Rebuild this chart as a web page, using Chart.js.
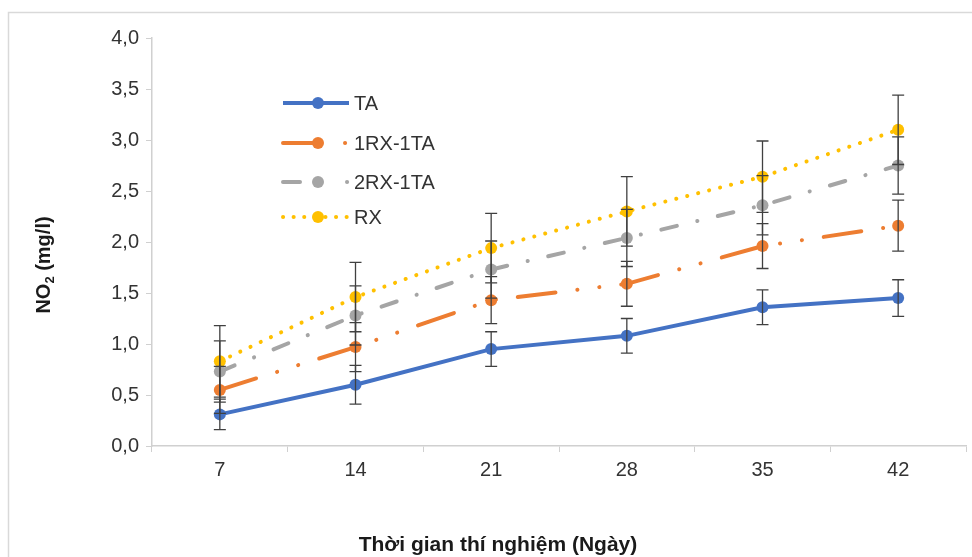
<!DOCTYPE html>
<html>
<head>
<meta charset="utf-8">
<script src="https://cdn.jsdelivr.net/npm/chart.js@4/dist/chart.umd.min.js"></script>
<style>
  html, body { margin: 0; padding: 0; background: #ffffff; }
  #wrap { width: 972px; height: 557px; position: relative; }
</style>
</head>
<body>
<div id="wrap"><canvas id="c" width="972" height="557"></canvas></div>
<script>
// ---- data ----
const categories = ['7', '14', '21', '28', '35', '42'];
const seriesNames = ['TA', '1RX-1TA', '2RX-1TA', 'RX'];
const taValues     = [0.31, 0.60, 0.95, 1.08, 1.36, 1.45];
const rx1ta1Values = [0.55, 0.97, 1.43, 1.59, 1.96, 2.16];
const rx2ta1Values = [0.73, 1.28, 1.73, 2.04, 2.36, 2.75];
const rxValues     = [0.83, 1.46, 1.94, 2.30, 2.64, 3.10];
const taErrors     = [0.15, 0.19, 0.17, 0.17, 0.17, 0.18];
const rx1ta1Errors = [0.23, 0.24, 0.23, 0.22, 0.22, 0.25];
const rx2ta1Errors = [0.30, 0.29, 0.28, 0.28, 0.29, 0.28];
const rxErrors     = [0.35, 0.34, 0.34, 0.34, 0.35, 0.34];
const yTickValues  = [0, 0.5, 1.0, 1.5, 2.0, 2.5, 3.0, 3.5, 4.0];
const yAxisTitleMain = 'NO';
const yAxisTitleSub = '2';
const yAxisTitleRest = ' (mg/l)';
const xAxisTitle = 'Thời gian thí nghiệm (Ngày)';

// ---- styles ----
const FONT = '"Liberation Sans", Arial, sans-serif';
const styles = [
  { color: '#4472C4', width: 4, dash: [], cap: 'butt', legendDash: [] },
  { color: '#ED7D31', width: 4, dash: [38, 22, 0.1, 22, 0.1, 22], cap: 'round', legendDash: [34, 28, 0.1, 200] },
  { color: '#A5A5A5', width: 4, dash: [16, 21, 0.1, 21], cap: 'round', legendDash: [17, 47, 0.1, 200] },
  { color: '#FFC000', width: 4, dash: [0.1, 11.2], cap: 'round', legendDash: [0.1, 10.5] }
];
const valueSets = [taValues, rx1ta1Values, rx2ta1Values, rxValues];
const errorSets = [taErrors, rx1ta1Errors, rx2ta1Errors, rxErrors];

const datasets = seriesNames.map((name, i) => ({
  label: name,
  data: valueSets[i],
  errors: errorSets[i],
  borderColor: styles[i].color,
  backgroundColor: styles[i].color,
  borderWidth: styles[i].width,
  borderDash: styles[i].dash,
  borderCapStyle: styles[i].cap,
  pointRadius: 6,
  pointHoverRadius: 6,
  pointBackgroundColor: styles[i].color,
  pointBorderColor: styles[i].color,
  pointBorderWidth: 0,
  tension: 0,
  fill: false
}));

const framePlugin = {
  id: 'frame',
  beforeDraw(chart) {
    const ctx = chart.ctx;
    ctx.save();
    ctx.fillStyle = '#ffffff';
    ctx.fillRect(0, 0, chart.width, chart.height);
    ctx.strokeStyle = '#D9D9D9';
    ctx.lineWidth = 1.5;
    ctx.strokeRect(8.5, 12.5, 1200, 1200);
    ctx.restore();
  }
};

const errorBarPlugin = {
  id: 'errorBars',
  afterDatasetsDraw(chart) {
    const ctx = chart.ctx;
    const xs = chart.scales.x, ys = chart.scales.y;
    ctx.save();
    ctx.strokeStyle = '#404040';
    ctx.lineWidth = 1.3;
    ctx.setLineDash([]);
    chart.data.datasets.forEach(ds => {
      ds.data.forEach((v, j) => {
        const e = ds.errors[j];
        const x = xs.getPixelForValue(j);
        const yTop = ys.getPixelForValue(v + e);
        const yBot = ys.getPixelForValue(v - e);
        ctx.beginPath();
        ctx.moveTo(x, yTop); ctx.lineTo(x, yBot);
        ctx.moveTo(x - 6, yTop); ctx.lineTo(x + 6, yTop);
        ctx.moveTo(x - 6, yBot); ctx.lineTo(x + 6, yBot);
        ctx.stroke();
      });
    });
    ctx.restore();
  }
};

const legendPlugin = {
  id: 'customLegend',
  afterDraw(chart) {
    const ctx = chart.ctx;
    const rows = [103, 143, 182, 217];
    ctx.save();
    chart.data.datasets.forEach((ds, i) => {
      const y = rows[i];
      ctx.strokeStyle = styles[i].color;
      ctx.lineWidth = styles[i].width;
      ctx.lineCap = styles[i].cap;
      ctx.setLineDash(styles[i].legendDash);
      ctx.beginPath();
      ctx.moveTo(283, y); ctx.lineTo(349, y);
      ctx.stroke();
      ctx.setLineDash([]);
      ctx.fillStyle = styles[i].color;
      ctx.beginPath();
      ctx.arc(318, y, 6, 0, Math.PI * 2);
      ctx.fill();
      ctx.fillStyle = '#333333';
      ctx.font = '20px ' + FONT;
      ctx.textBaseline = 'middle';
      ctx.textAlign = 'left';
      ctx.fillText(ds.label, 354, y + 1);
    });
    ctx.restore();
  }
};

const titlePlugin = {
  id: 'axisTitles',
  afterDraw(chart) {
    const ctx = chart.ctx;
    ctx.save();
    ctx.fillStyle = '#1a1a1a';
    ctx.textBaseline = 'middle';
    // x title
    ctx.font = 'bold 21px ' + FONT;
    ctx.textAlign = 'center';
    ctx.fillText(xAxisTitle, 498, 545);
    // y title (rotated) with subscript
    ctx.translate(44, 265);
    ctx.rotate(-Math.PI / 2);
    const big = 'bold 20px ' + FONT, small = 'bold 13px ' + FONT;
    ctx.font = big; const w1 = ctx.measureText(yAxisTitleMain).width;
    const w3 = ctx.measureText(yAxisTitleRest).width;
    ctx.font = small; const w2 = ctx.measureText(yAxisTitleSub).width;
    let x = -(w1 + w2 + w3) / 2;
    ctx.textAlign = 'left';
    ctx.font = big; ctx.fillText(yAxisTitleMain, x, 0); x += w1;
    ctx.font = small; ctx.fillText(yAxisTitleSub, x, 6); x += w2;
    ctx.font = big; ctx.fillText(yAxisTitleRest, x, 0);
    ctx.restore();
  }
};

new Chart(document.getElementById('c'), {
  type: 'line',
  data: { labels: categories, datasets: datasets },
  options: {
    responsive: false,
    animation: false,
    events: [],
    layout: { padding: { top: 38, right: 5, left: 0, bottom: 0 } },
    plugins: { legend: { display: false }, tooltip: { enabled: false }, title: { display: false } },
    scales: {
      x: {
        type: 'category',
        offset: true,
        grid: { offset: true, drawOnChartArea: false, drawTicks: true, tickLength: 6, color: '#D0D0D0' },
        border: { color: '#D0D0D0', width: 1.5 },
        ticks: { color: '#333333', font: { family: FONT, size: 20 }, padding: 6, maxRotation: 0 },
        afterFit(scale) { scale.height = 111; }
      },
      y: {
        min: 0, max: 4,
        afterBuildTicks(scale) { scale.ticks = yTickValues.map(v => ({ value: v })); },
        grid: { drawOnChartArea: false, drawTicks: true, tickLength: 6, color: '#D0D0D0' },
        border: { color: '#D0D0D0', width: 1.5 },
        ticks: {
          color: '#333333', font: { family: FONT, size: 20 }, padding: 7,
          callback: v => v.toFixed(1).replace('.', ',')
        },
        afterFit(scale) { scale.width = 152; }
      }
    }
  },
  plugins: [framePlugin, errorBarPlugin, legendPlugin, titlePlugin]
});
</script>
</body>
</html>
